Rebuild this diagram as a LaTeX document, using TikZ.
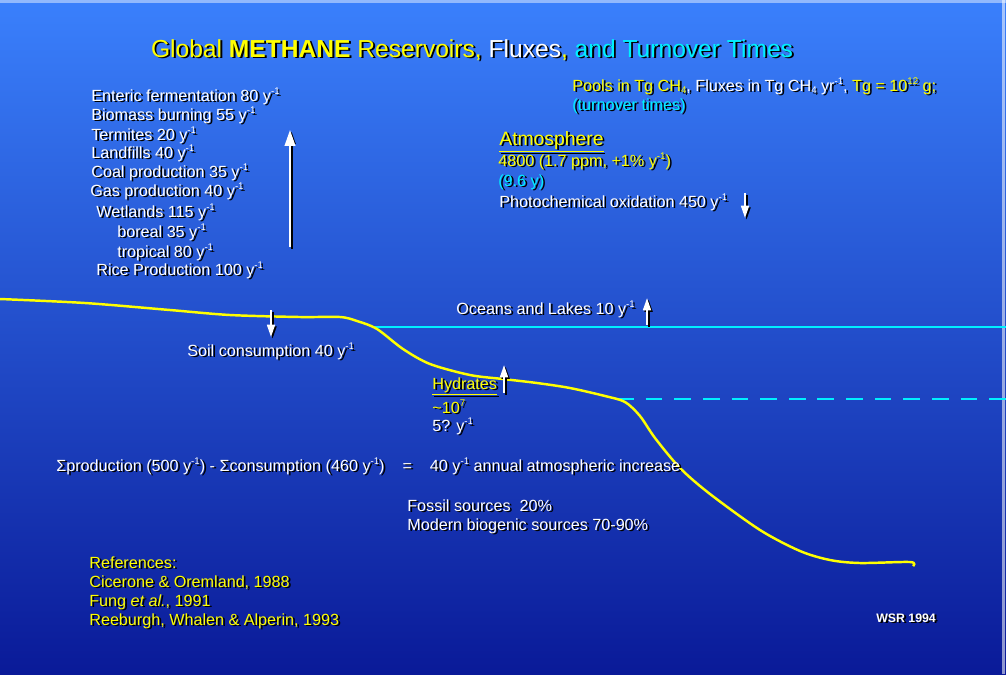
\documentclass[tikz,border=0pt]{standalone}
\usepackage{fontspec}
\setmainfont{Liberation Sans}
\usetikzlibrary{arrows.meta}

\definecolor{slidetop}{RGB}{58,128,252}
\definecolor{slidemid}{RGB}{30,76,214}
\definecolor{slidebot}{RGB}{10,26,152}
\definecolor{ylw}{RGB}{255,255,0}
\definecolor{cyn}{RGB}{0,240,255}

% text with a black drop shadow
\newcommand\shd[1]{\leavevmode\rlap{\raisebox{-1.1pt}[0pt][0pt]{\kern1.1pt\color{black}\def\color##1{}#1}}#1}
% small raised / lowered index
\newcommand\pw[1]{\raisebox{0.75ex}{\fontsize{5.5}{6}\selectfont#1}}
\newcommand\lw[1]{\raisebox{-0.35ex}{\fontsize{5.5}{6}\selectfont#1}}

\tikzset{
  lbl/.style={anchor=base west, inner sep=0pt, text=white, font=\fontsize{9.2}{11}\selectfont},
  ttl/.style={anchor=base, inner sep=0pt, text=white, font=\fontsize{14}{16}\selectfont},
  flux/.style={white, line width=1.1pt, -{Triangle[length=7pt,width=4.5pt]},
    preaction={draw=black, line width=1.1pt, -{Triangle[length=7pt,width=4.5pt]},
      transform canvas={xshift=0.9pt,yshift=-0.9pt}}},
  shore/.style={ylw, line width=1.4pt},
  sealevel/.style={cyn, line width=1.4pt},
}

\begin{document}
\begin{tikzpicture}[x=0.02cm,y=-0.02cm]

\useasboundingbox (0,0) rectangle (1006,674);
\shade [top color=slidetop, middle color=slidemid, bottom color=slidebot] (0,0) rectangle (1006,674);
\fill [white, opacity=0.45] (0,0) rectangle (1006,2.5);
\fill [white, opacity=0.55] (1002,0) rectangle (1005,674);

% title
\node [ttl] (title) at (472,57) {\shd{\textcolor{ylw}{Global \textbf{METHANE} Reservoirs,} Fluxes\textcolor{ylw}{,} \textcolor{cyn}{and Turnover Times}}};

% sources
\node [lbl] (enteric) at (91,101) {\shd{Enteric fermentation 80 y\pw{-1}}};
\node [lbl] (biomass) at (91,120) {\shd{Biomass burning 55 y\pw{-1}}};
\node [lbl] (termites) at (91,140) {\shd{Termites 20 y\pw{-1}}};
\node [lbl] (landfills) at (91,158) {\shd{Landfills 40 y\pw{-1}}};
\node [lbl] (coal) at (91,177) {\shd{Coal production 35 y\pw{-1}}};
\node [lbl] (gas) at (90,196) {\shd{Gas production 40 y\pw{-1}}};
\node [lbl] (wetlands) at (96,217) {\shd{Wetlands 115 y\pw{-1}}};
\node [lbl] (boreal) at (117,237) {\shd{boreal 35 y\pw{-1}}};
\node [lbl] (tropical) at (117,257) {\shd{tropical 80 y\pw{-1}}};
\node [lbl] (rice) at (96,275) {\shd{Rice Production 100 y\pw{-1}}};
\coordinate (srcbot) at (290,247);
\coordinate (srctop) at (290,130);
\draw [flux, -{Triangle[length=9pt,width=6pt]}] (srcbot) -- (srctop);

% units
\node [lbl] (units) at (572,91) {\shd{\textcolor{ylw}{Pools in Tg CH\lw{4}}, Fluxes in Tg CH\lw{4} yr\pw{-1}, \textcolor{ylw}{Tg = 10\pw{12} g;}}};
\node [lbl, text=cyn] (turnover) at (572,110) {\shd{(turnover times)}};

% atmosphere
\node [lbl, text=ylw, font=\fontsize{11}{13}\selectfont] (atmos) at (499,145) {\shd{\underline{Atmosphere}}};
\node [lbl, text=ylw] (atmpool) at (498,166) {\shd{4800 (1.7 ppm, +1\% y\pw{-1})}};
\node [lbl, text=cyn] (atmtime) at (498,186) {\shd{(9.6 y)}};
\node [lbl] (photo) at (499,207) {\shd{Photochemical oxidation 450 y\pw{-1}}};
\coordinate (phtop) at (745,193);
\coordinate (phbot) at (745,218);
\draw [flux] (phtop) -- (phbot);

% land surface and sea levels
\draw [sealevel] (375,327) -- (1006,327);
\draw [sealevel, dash pattern=on 9.5pt off 6.8pt] (617,399) -- (1006,399);
\draw [shore] plot [smooth, tension=0.5] coordinates {(0,299) (85,303) (170,310) (230,315) (300,317) (340,317) (357,321) (377,329) (403,349) (430,364) (470,375) (503,379) (537,383) (570,388) (605,396) (625,402) (640,416) (655,438) (680,468) (710,494) (760,530) (800,551) (830,560) (860,563) (910,562) (913,566)};

% soil
\coordinate (soiltop) at (271,310);
\coordinate (soilbot) at (271,337);
\draw [flux] (soiltop) -- (soilbot);
\node [lbl] (soil) at (187,356) {\shd{Soil consumption 40 y\pw{-1}}};

% oceans
\node [lbl] (oceans) at (456,314) {\shd{Oceans and Lakes 10 y\pw{-1}}};
\coordinate (ocbot) at (647,325);
\coordinate (octop) at (647,298);
\draw [flux] (ocbot) -- (octop);

% hydrates
\coordinate (hybot) at (504,393);
\coordinate (hytop) at (504,365);
\draw [flux] (hybot) -- (hytop);
\node [lbl, text=ylw] (hydrates) at (432,389) {\shd{\underline{Hydrates}}};
\node [lbl, text=ylw] (hypool) at (432,413) {\shd{\textasciitilde10\pw{7}}};
\node [lbl] (hyflux) at (432,431) {\shd{5? y\pw{-1}}};

% budget
\node [lbl] (budget) at (56,471) {\shd{Σproduction (500 y\pw{-1}) - Σconsumption (460 y\pw{-1})\ \ \ \ =\ \ \ \ 40 y\pw{-1} annual atmospheric increase}};
\node [lbl] (fossil) at (407,511) {\shd{Fossil sources\ \ 20\%}};
\node [lbl] (modern) at (407,530) {\shd{Modern biogenic sources 70-90\%}};

% references
\node [lbl, text=ylw] (refs) at (89,568) {\shd{References:}};
\node [lbl, text=ylw] (cicerone) at (89,587) {\shd{Cicerone \& Oremland, 1988}};
\node [lbl, text=ylw] (fung) at (89,606) {\shd{Fung \textit{et al.}, 1991}};
\node [lbl, text=ylw] (reeburgh) at (89,625) {\shd{Reeburgh, Whalen \& Alperin, 1993}};

\node [lbl, font=\fontsize{7}{8}\selectfont\bfseries] (wsr) at (876,622) {\shd{WSR 1994}};

\end{tikzpicture}
\end{document}
